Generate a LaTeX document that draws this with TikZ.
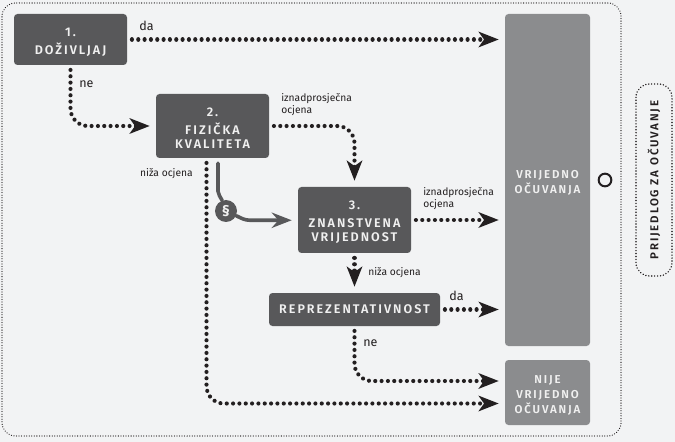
\documentclass[tikz,border=0pt]{standalone}
\usepackage{fontspec}
\setmainfont{Fira Sans}
\newfontfamily\capsfont[LetterSpace=16]{Fira Sans SemiBold}
\usetikzlibrary{arrows.meta,positioning,calc}
\definecolor{pageback}{RGB}{242,243,244}
\definecolor{boxdark}{RGB}{88,88,90}
\definecolor{boxlight}{RGB}{139,140,142}
\definecolor{dotcolor}{RGB}{35,31,32}
\definecolor{boxtext}{RGB}{240,240,240}
\newcommand{\boxstrut}{\rule{0pt}{10.5pt}}
\tikzset{
  stepbox/.style={fill=boxdark, rounded corners=2.6pt, text=boxtext, align=center, inner sep=0pt,
    font=\capsfont\fontsize{9.4}{11}\selectfont},
  resultbox/.style={stepbox, fill=boxlight, font=\capsfont\fontsize{8.6}{11}\selectfont},
  dotln/.style={-{Stealth[length=15pt,width=11.5pt,inset=4pt]}, dotcolor, line width=3.1pt, line cap=round,
    dash pattern=on 0.01pt off 4.74pt, shorten <=3.5pt, shorten >=4.5pt, rounded corners=13pt},
  lawln/.style={-{Stealth[length=15pt,width=11.5pt,inset=5pt]}, boxdark, line width=2.7pt, line cap=round},
  lab/.style={inner sep=0pt, align=left, text=dotcolor, font=\fontsize{7.7}{9.3}\selectfont},
  labbig/.style={lab, font=\fontsize{9.4}{11}\selectfont},
}
\begin{document}
\begin{tikzpicture}[x=0.75pt, y=-0.75pt]
    \useasboundingbox (0,0) rectangle (675,442);
    \fill[pageback] (0,0) rectangle (675,442);
    % frames
    \node[draw=dotcolor, line width=0.95pt, dash pattern=on 0.01pt off 1.9pt, line cap=round, rounded corners=10pt,
      minimum width=464.25pt, minimum height=324.75pt] (frame) at (311.5,219.5) {};
    \node[draw=dotcolor, line width=1.2pt, dash pattern=on 0.01pt off 2.2pt, line cap=round, rounded corners=10pt,
      rotate=90, minimum width=144pt, minimum height=27pt, inner sep=0pt, text=dotcolor,
      font=\capsfont\fontsize{8.6}{10}\selectfont] (proposal) at (654,180) {PRIJEDLOG ZA OČUVANJE};
    % steps
    \node[stepbox, minimum width=84.75pt, minimum height=38.25pt] (experience) at (70.5,39.5) {\boxstrut 1.\\[2pt]DOŽIVLJAJ};
    \node[stepbox, minimum width=84.75pt, minimum height=48pt] (physical) at (212.5,126) {\boxstrut 2.\\[2pt]FIZIČKA\\KVALITETA};
    \node[stepbox, minimum width=84.75pt, minimum height=49.5pt] (science) at (354.5,220) {\boxstrut 3.\\[2pt]ZNANSTVENA\\VRIJEDNOST};
    \node[stepbox, minimum width=128.25pt, minimum height=24.75pt] (represent) at (354.5,309.5) {REPREZENTATIVNOST};
    % results
    \node[resultbox, minimum width=63.75pt, minimum height=249pt] (worthy) at (547.5,180) {\boxstrut VRIJEDNO\\OČUVANJA};
    \node[resultbox, minimum width=63.75pt, minimum height=48.75pt] (unworthy) at (547.5,392.5) {\boxstrut NIJE\\VRIJEDNO\\OČUVANJA};
    \node[draw=dotcolor, circle, line width=1.5pt, minimum size=9.5pt, inner sep=0pt] (mark) at (605,180) {};
    \node[circle, fill=boxdark, minimum size=16.5pt, inner sep=0pt, text=boxtext,
      font=\bfseries\fontsize{11}{11}\selectfont] (law) at (226,211) {§};
    % dotted arrows
    \draw[dotln] (experience.east) -- (experience.east -| worthy.west);
    \draw[dotln] (experience.south) |- (physical.west);
    \draw[dotln] (physical.east) -| (science.north);
    \draw[dotln] (science.east) -- (science.east -| worthy.west);
    \draw[dotln] (science.south) -- (represent.north);
    \draw[dotln] (represent.east) -- (represent.east -| worthy.west);
    \draw[dotln] (represent.south) |- ($(unworthy.west)+(0,-11.5)$);
    \draw[dotln] ($(physical.south)+(-6,0)$) |- ($(unworthy.west)+(0,11)$);
    % solid arrow through the paragraph mark
    \draw[boxdark, line width=2.7pt, line cap=round] ($(physical.south)+(5.5,5)$) -- ++(0,28) to[out=-90,in=110] (law.110);
    \coordinate (lawbend) at ($(law.-25)+(14,4.5)$);
    \draw[lawln, shorten >=4.5pt] (law.-25) to[out=-25,in=180] (lawbend) -- (lawbend -| science.west);
    % labels
    \node[labbig, anchor=west] (labyes) at (139,26) {da};
    \node[labbig, anchor=west] (labno) at (79,84) {ne};
    \node[lab, anchor=north west] (labhigh) at (281,93) {iznadprosječna\\ocjena};
    \node[lab, anchor=east] (lablow) at (193,174) {niža ocjena};
    \node[lab, anchor=north west] (labhightwo) at (423,187) {iznadprosječna\\ocjena};
    \node[lab, anchor=west] (lablowtwo) at (368,273) {niža ocjena};
    \node[labbig, anchor=west] (labyestwo) at (449,296) {da};
    \node[labbig, anchor=west] (labnotwo) at (363,343) {ne};
\end{tikzpicture}
\end{document}
